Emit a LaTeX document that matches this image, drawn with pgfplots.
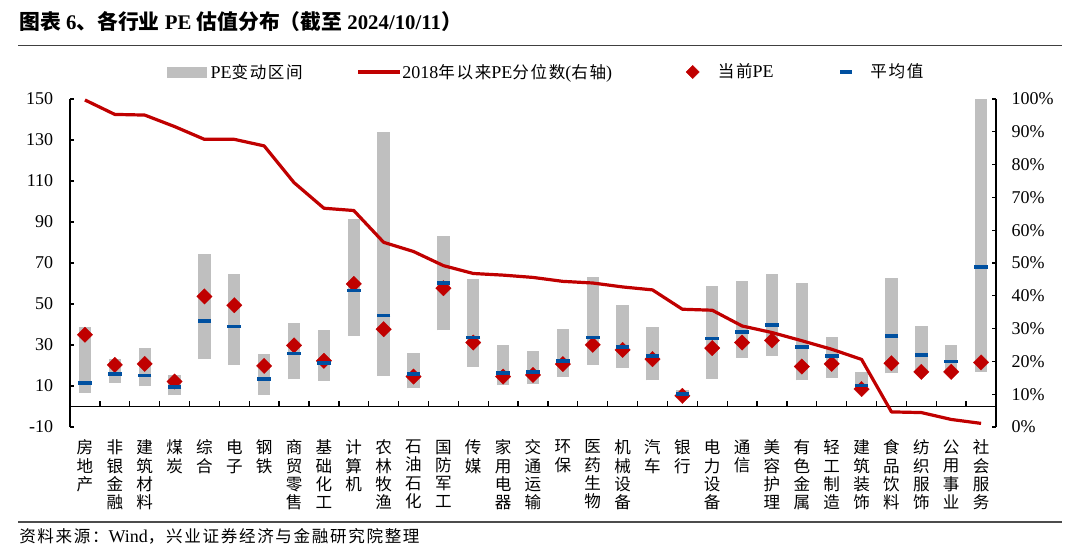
\documentclass[border=0pt]{standalone}
\usepackage{pgfplots}
\pgfplotsset{compat=1.18}
\usepackage{pgfplotstable}
\usepackage{fontspec}
\setmainfont{Liberation Serif}
\newfontfamily\cj[Scale=0.92,LetterSpace=10]{Noto Sans CJK SC}
\newfontfamily\cjv[Scale=0.92]{Noto Sans CJK SC}
\newfontfamily\cjt{Noto Sans CJK SC}
\definecolor{barGray}{RGB}{191,191,191}
\definecolor{peRed}{RGB}{192,0,0}
\definecolor{avgBlue}{RGB}{0,80,160}

\pgfplotstableread{
x lo hi pe mean pct
0 6.8 39.0 35.0 11.4 99.7
1 11.7 23.1 20.3 15.9 95.3
2 9.8 28.3 20.8 15.1 95.1
3 5.4 15.4 12.2 9.4 91.6
4 23.1 74.3 53.7 41.8 87.7
5 20.2 64.7 49.4 39.0 87.7
6 5.5 25.7 19.8 13.3 85.7
7 13.2 40.8 29.8 25.9 74.5
8 12.5 37.4 22.3 21.1 66.7
9 34.6 91.4 59.8 56.6 66.0
10 15.0 133.7 37.7 44.4 56.3
11 8.9 26.0 14.6 15.9 53.5
12 37.1 83.3 57.7 60.2 49.2
13 19.5 62.1 31.2 33.7 46.8
14 10.4 30.1 14.6 16.3 46.3
15 10.9 27.3 15.4 16.9 45.6
16 14.5 37.7 20.7 22.3 44.4
17 20.3 63.3 30.1 33.7 43.9
18 19.0 49.4 27.6 29.1 42.7
19 12.7 39.0 23.1 24.7 41.8
20 4.0 8.1 5.2 6.2 35.9
21 13.5 58.9 28.5 33.2 35.6
22 23.9 61.1 31.2 36.3 30.8
23 24.7 64.7 32.2 39.8 28.8
24 12.7 60.3 19.5 29.1 26.3
25 14.1 34.1 20.8 24.6 23.7
26 8.1 16.9 8.5 10.2 20.6
27 16.1 62.9 21.1 34.5 4.6
28 17.5 39.5 16.9 25.0 4.4
29 17.0 30.1 16.9 22.0 2.3
30 16.9 150.0 21.5 68.1 1.1
}\data

\begin{document}
\begin{tikzpicture}
\useasboundingbox (0pt,0pt) rectangle (810pt,411.75pt);
\node[anchor=west, inner sep=0pt, font=\bfseries\fontsize{15.6}{18}\selectfont] at (14.25pt,395.25pt)
  {{\cjt 图表}~6{\cjt 、各行业}~PE~{\cjt 估值分布（截至}~2024/10/11{\cjt ）}};
\draw[line width=1.3pt, black!75] (13.5pt,377.6pt) -- (796.5pt,377.6pt);
\draw[line width=0.9pt, black!70] (13.5pt,20.25pt) -- (796.5pt,20.25pt);
\node[anchor=west, inner sep=0pt, font=\fontsize{13.5}{16}\selectfont] at (14.25pt,9.75pt)
  {{\cj 资料来源：}Wind{\cj ，兴业证券经济与金融研究院整理}};

\pgfplotsset{base/.style={scale only axis, width=694.5pt, height=246pt,
  at={(52.5pt,91.5pt)}, anchor=south west, xmin=-0.5, xmax=30.5,
  /pgf/number format/assume math mode=true,
  axis line style={line width=1pt, black},
  every tick/.style={line width=1pt, black}}}

% main axis: ranges, current PE, averages
\begin{axis}[base, ymin=-10, ymax=150, ytick={-10,10,...,150},
  axis y line*=left, axis x line*=bottom, x axis line style={draw=none},
  ytick align=inside, major tick length=3.2pt,
  xtick={0,...,30}, x tick style={draw=none},
  xticklabels={{房\\地\\产},{非\\银\\金\\融},{建\\筑\\材\\料},{煤\\炭},{综\\合},{电\\子},{钢\\铁},{商\\贸\\零\\售},{基\\础\\化\\工},{计\\算\\机},{农\\林\\牧\\渔},{石\\油\\石\\化},{国\\防\\军\\工},{传\\媒},{家\\用\\电\\器},{交\\通\\运\\输},{环\\保},{医\\药\\生\\物},{机\\械\\设\\备},{汽\\车},{银\\行},{电\\力\\设\\备},{通\\信},{美\\容\\护\\理},{有\\色\\金\\属},{轻\\工\\制\\造},{建\\筑\\装\\饰},{食\\品\\饮\\料},{纺\\织\\服\\饰},{公\\用\\事\\业},{社\\会\\服\\务}},
  xticklabel style={font=\cjv\fontsize{13.5}{13.7}\selectfont, align=center, anchor=north, inner sep=0pt, yshift=-9.5pt},
  yticklabel style={font=\fontsize{13.5}{16}\selectfont, inner sep=0pt, xshift=-12.4pt},
]
\addplot[draw=none, forget plot, error bars/.cd, y dir=plus, y explicit, error mark=none,
  error bar style={draw=barGray, line width=9.25pt}]
  table[x=x, y=lo, y error expr=\thisrow{hi}-\thisrow{lo}] {\data};
\addplot[only marks, color=peRed, mark=square*, mark size=4.1pt,
  mark options={rotate=45, draw=peRed, fill=peRed, line width=0.2pt}]
  table[x=x, y=pe] {\data};
\addplot[only marks, mark=-, mark size=5.1pt, mark options={draw=avgBlue, line width=2.8pt}]
  table[x=x, y=mean] {\data};
\end{axis}

% zero line with category separators
\begin{axis}[base, ymin=-10, ymax=150, axis x line*=middle, axis y line=none,
  xtick={0.5,1.5,...,29.5}, xticklabels={}, xtick align=inside, major tick length=3.75pt]
\addplot[draw=none, forget plot] coordinates {(0,0)};
\end{axis}

% right axis: percentile since 2018
\begin{axis}[base, ymin=0, ymax=100, axis y line*=right, axis x line=none,
  ytick={0,10,...,100},
  yticklabels={0\%,10\%,20\%,30\%,40\%,50\%,60\%,70\%,80\%,90\%,100\%},
  ytick align=inside, major tick length=3.2pt,
  yticklabel style={font=\fontsize{13.5}{16}\selectfont, anchor=west, inner sep=0pt, xshift=11.6pt},
  legend cell align=left,
  legend columns=4,
  legend style={at={(axis description cs:0.10475,1.0823)}, anchor=west, draw=none, fill=none,
    inner sep=0pt, outer sep=0pt, column sep=0pt,
    nodes={inner sep=0pt, outer sep=0pt, font=\fontsize{13.5}{16}\selectfont}},
]
\addlegendimage{legend image code/.code={\fill[barGray] (0pt,-3.9pt) rectangle (29.25pt,3.9pt); \path (32.25pt,0pt);}}
\addlegendentry{\makebox[109.5pt][l]{PE{\cj 变动区间}}}
\addlegendimage{legend image code/.code={\draw[peRed, line width=2.4pt] (0pt,0pt) -- (31.5pt,0pt); \path (33pt,0pt);}}
\addlegendentry{\makebox[211.5pt][l]{2018{\cj 年以来}PE{\cj 分位数}({\cj 右轴})}}
\addlegendimage{legend image code/.code={\fill[peRed] (6pt,4.9pt) -- (10.9pt,0pt) -- (6pt,-4.9pt) -- (1.1pt,0pt) -- cycle; \path (0pt,0pt) (24.75pt,0pt);}}
\addlegendentry{\makebox[90pt][l]{{\cj 当前}PE}}
\addlegendimage{legend image code/.code={\draw[avgBlue, line width=3pt] (1.5pt,0pt) -- (10.25pt,0pt); \path (0pt,0pt) (24pt,0pt);}}
\addlegendentry{{\cj 平均值}}
\addplot[peRed, line width=2.4pt, line join=round, forget plot] table[x=x, y=pct] {\data};
\end{axis}
\end{tikzpicture}
\end{document}
